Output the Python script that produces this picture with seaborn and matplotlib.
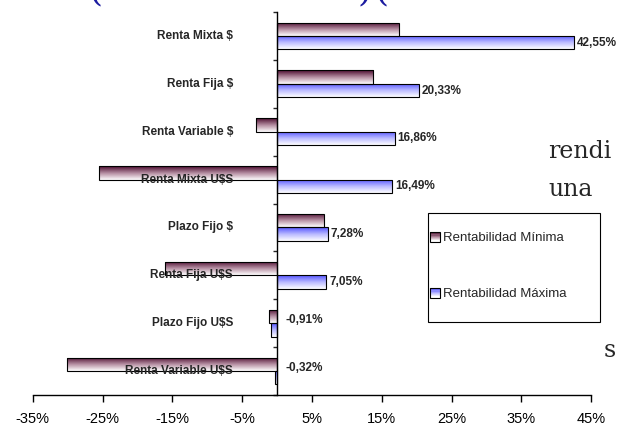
import numpy as np
import pandas as pd
import matplotlib
matplotlib.use('Agg')
import matplotlib.pyplot as plt
import seaborn as sns
from matplotlib.colors import LinearSegmentedColormap
from matplotlib.patches import Rectangle
from matplotlib.legend_handler import HandlerBase

# datos
instrumentos = ['Renta Mixta $', 'Renta Fija $', 'Renta Variable $', 'Renta Mixta U$S',
                'Plazo Fijo $', 'Renta Fija U$S', 'Plazo Fijo U$S', 'Renta Variable U$S']
rent_minima = [17.4, 13.8, -3.0, -25.5, 6.7, -16.1, -1.2, -30.1]
rent_maxima = [42.55, 20.33, 16.86, 16.49, 7.28, 7.05, -0.91, -0.32]
series = ['Rentabilidad Mínima', 'Rentabilidad Máxima']
x_ticks = [-35, -25, -15, -5, 5, 15, 25, 35, 45]

sns.set_style('white')
plt.rcParams['font.family'] = ['Liberation Sans', 'DejaVu Sans']

df = pd.DataFrame({
    'Instrumento': instrumentos * 2,
    'Serie': [series[0]] * len(instrumentos) + [series[1]] * len(instrumentos),
    'Valor': rent_minima + rent_maxima,
})

cmaps = {
    series[0]: LinearSegmentedColormap.from_list('mn', ['#4a0c2e', '#b48ca0', '#ffffff']),
    series[1]: LinearSegmentedColormap.from_list('mx', ['#5252ff', '#b8b8ff', '#ffffff']),
}


class GradHandler(HandlerBase):
    def __init__(self, cmap):
        super().__init__()
        self.cmap = cmap

    def create_artists(self, legend, orig_handle, xdescent, ydescent,
                       width, height, fontsize, trans):
        arts = []
        n = 8
        for k in range(n):
            arts.append(Rectangle((-xdescent, -ydescent + height * (n - 1 - k) / n),
                                  width, height / n, facecolor=self.cmap(k / (n - 1)),
                                  edgecolor='none', transform=trans))
        arts.append(Rectangle((-xdescent, -ydescent), width, height, facecolor='none',
                              edgecolor='black', lw=0.8, transform=trans))
        return arts


fig = plt.figure(figsize=(6.19, 4.34), dpi=100)
ax = fig.add_axes([32.7 / 619, 1 - 395 / 434, 558.5 / 619, 383 / 434])

sns.barplot(data=df, y='Instrumento', x='Valor', hue='Serie', hue_order=series,
            order=instrumentos, orient='h', width=0.56, ax=ax, legend=False,
            palette=['#aa7788', '#aaaaff'], saturation=1,
            edgecolor='black', linewidth=0.8)

ax.set_xlim(-35, 45)
ax.set_ylim(7.5, -0.5)

# relleno degradado de cada barra
grad = np.linspace(0, 1, 64).reshape(-1, 1)
for cont, serie in zip(ax.containers, series):
    for p in cont.patches:
        x0, y0 = p.get_x(), p.get_y()
        w, h = p.get_width(), p.get_height()
        im = ax.imshow(grad, extent=(x0, x0 + w, y0 + h, y0), origin='upper',
                       cmap=cmaps[serie], aspect='auto', zorder=1.5, interpolation='bilinear')
        im.set_clip_path(p)
        p.set_facecolor('none')
        p.set_zorder(2)

ax.set_xlim(-35, 45)
ax.set_ylim(7.5, -0.5)

# ejes
for s in ['top', 'right']:
    ax.spines[s].set_visible(False)
ax.spines['left'].set_position(('data', 0))
ax.spines['left'].set_zorder(3)
for s in ['left', 'bottom']:
    ax.spines[s].set_color('black')
    ax.spines[s].set_linewidth(1.0)

ax.set_xticks(x_ticks)
ax.set_xticklabels([f'{v}%' for v in x_ticks])
ax.set_yticks(np.arange(-0.5, len(instrumentos), 1))
ax.set_yticklabels([])
ax.tick_params(axis='x', direction='out', length=5, width=1, pad=7,
               labelsize=10.5, bottom=True, colors='black')
ax.tick_params(axis='y', direction='out', length=3, width=1, left=True)
ax.set_xlabel('')
ax.set_ylabel('')
ax.grid(False)

# nombres de categoría
for i, name in enumerate(instrumentos):
    ax.annotate(name, xy=(0, i), xytext=(-44, 0), textcoords='offset pixels',
                ha='right', va='center', fontsize=8.5, fontweight='bold', zorder=4)

# etiquetas de la rentabilidad máxima
for p, v in zip(ax.containers[1].patches, rent_maxima):
    yc = p.get_y() + p.get_height() / 2
    txt = f'{v:.2f}%'.replace('.', ',')
    if v >= 0:
        ax.annotate(txt, xy=(v, yc), xytext=(3, 0), textcoords='offset pixels',
                    ha='left', va='center', fontsize=8.5, fontweight='bold')
    else:
        ax.annotate(txt, xy=(0, yc), xytext=(8, 10), textcoords='offset pixels',
                    ha='left', va='center', fontsize=8.5, fontweight='bold')

# leyenda
handles = [Rectangle((0, 0), 1, 1) for _ in series]
leg = fig.legend(handles, series, loc='upper left',
                 bbox_to_anchor=(430 / 619, 1 - 232 / 434), frameon=False,
                 fontsize=9.5, labelspacing=3.3, handlelength=0.75, handleheight=0.75,
                 handletextpad=0.25, borderpad=0, borderaxespad=0,
                 handler_map={h: GradHandler(cmaps[s]) for h, s in zip(handles, series)})
fig.add_artist(Rectangle((428 / 619, 1 - 322 / 434), 172 / 619, 109 / 434,
                         transform=fig.transFigure, fill=False, ec='black', lw=0.8))

# restos del texto de la página alrededor del gráfico
serif = ['DejaVu Serif']
fig.text(548 / 619, 1 - 158 / 434, 'rendi', fontsize=17, family=serif, va='baseline')
fig.text(548 / 619, 1 - 196 / 434, 'una', fontsize=17, family=serif, va='baseline')
fig.text(604 / 619, 1 - 357 / 434, 's', fontsize=17, family=serif, va='baseline')
for xp, ch in [(88, '('), (358, ')'), (374, '(')]:
    fig.text(xp / 619, 1.0, ch, fontsize=26, family=serif, color='#1c1ca0', va='baseline')

fig.savefig('out.png', dpi=100)
